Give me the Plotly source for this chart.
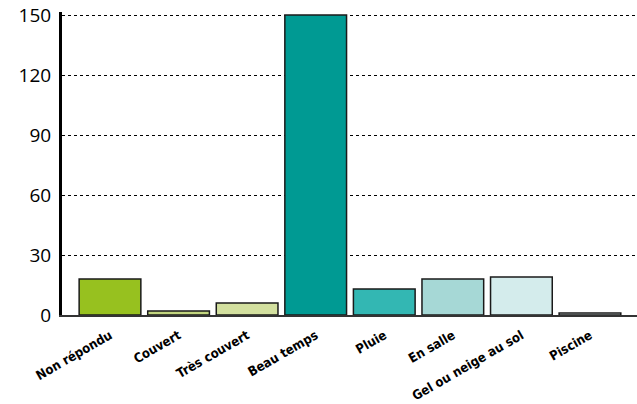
import plotly.graph_objects as go

categories = ["Non répondu", "Couvert", "Très couvert", "Beau temps", "Pluie",
              "En salle", "Gel ou neige au sol", "Piscine"]
values = [18, 2, 6, 150, 13, 18, 19, 1]
colors = ["#97C11F", "#C2D57F", "#D3E09F", "#009A93", "#33B7B3",
          "#A6D8D6", "#D4ECEC", "#E6F2F2"]
y_ticks = [0, 30, 60, 90, 120, 150]

fig = go.Figure(go.Bar(
    x=list(range(len(categories))), y=values,
    marker=dict(color=colors, line=dict(color="#1a1a1a", width=1.5)),
    width=0.9,
))

fig.update_layout(
    width=637, height=404,
    margin=dict(l=62, r=0, t=12, b=89),
    plot_bgcolor="white", paper_bgcolor="white",
    showlegend=False,
    xaxis=dict(
        range=[-0.7, 7.686], automargin=False,
        tickmode="array", tickvals=list(range(len(categories))), ticktext=categories,
        tickangle=-30,
        tickfont=dict(family="DejaVu Sans Condensed, Roboto, sans-serif", size=13,
                      color="black", weight="bold"),
        showgrid=False, zeroline=False,
        showline=True, linecolor="#333333", linewidth=2,
        ticks="", ticklabelstandoff=6,
    ),
    yaxis=dict(
        range=[0, 151.5], automargin=False,
        tickmode="array", tickvals=y_ticks,
        tickfont=dict(family="Open Sans", size=19, color="black"),
        ticklabeloverflow="allow",
        showgrid=True, gridcolor="black", gridwidth=1, griddash="dot",
        zeroline=False,
        showline=True, linecolor="black", linewidth=3,
        ticks="", ticklabelstandoff=4,
    ),
)

fig.write_html("out.html", config={"displayModeBar": False},
               post_script="document.body.style.margin='0';document.body.style.overflow='hidden';")
